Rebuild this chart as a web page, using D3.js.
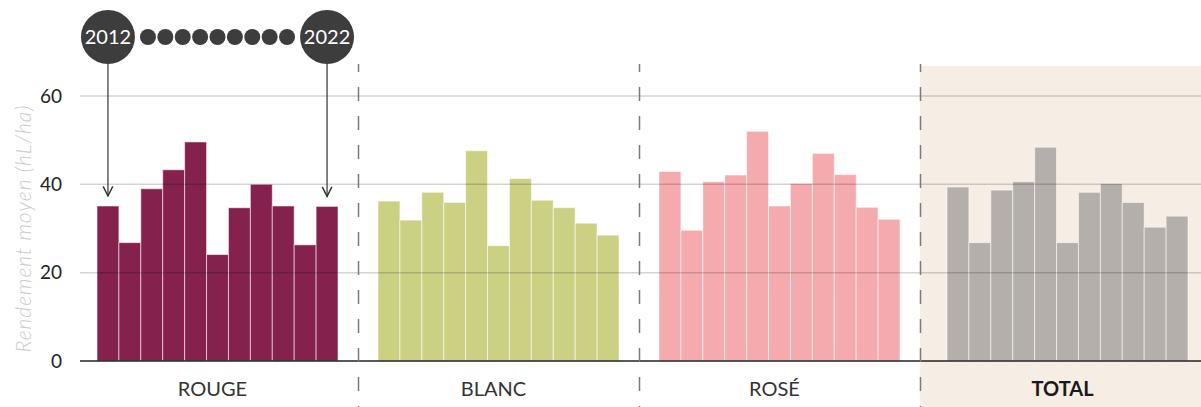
<!DOCTYPE html>
<html>
<head>
<meta charset="utf-8">
<script src="https://cdn.jsdelivr.net/npm/d3@7"></script>
<style>
  body { margin: 0; background: #fff; }
  svg { display: block; font-family: Lato, "Open Sans", sans-serif; }
</style>
</head>
<body>
<div id="chart"></div>
<script>
// data
const categories = ["ROUGE", "BLANC", "ROSÉ", "TOTAL"];
const years = [2012, 2013, 2014, 2015, 2016, 2017, 2018, 2019, 2020, 2021, 2022];
const rouge = [35.1, 26.8, 39.0, 43.3, 49.6, 24.1, 34.7, 40.0, 35.1, 26.3, 35.0];
const blanc = [36.2, 31.9, 38.2, 35.9, 47.6, 26.1, 41.3, 36.4, 34.7, 31.2, 28.5];
const rose  = [42.9, 29.6, 40.6, 42.1, 52.0, 35.1, 40.2, 47.0, 42.2, 34.8, 32.1];
const total = [39.4, 26.8, 38.7, 40.6, 48.4, 26.8, 38.2, 40.2, 35.9, 30.3, 32.8];
const yTicks = [0, 20, 40, 60];
const colors = ["#85214d", "#cbd083", "#f5aaae", "#b4afab"];

const series = [rouge, blanc, rose, total];
const width = 1201, height = 407;

const svg = d3.select("#chart")
  .append("svg")
  .attr("width", width)
  .attr("height", height);

const x0 = d3.scaleBand()
  .domain(categories)
  .range([77, 1201]);

const x1 = d3.scaleBand()
  .domain(years)
  .range([20, x0.bandwidth() - 20]);

const y = d3.scaleLinear()
  .domain([0, 60])
  .range([361, 96]);

// shaded background behind the total panel
svg.append("rect")
  .attr("x", x0("TOTAL"))
  .attr("y", 66)
  .attr("width", x0.bandwidth())
  .attr("height", height - 66)
  .attr("fill", "#f6ede4");

// bars (the total panel sits a few px further right in the original)
const shift = d => d === "TOTAL" ? 7 : 0;
const groups = svg.selectAll(".grp")
  .data(categories)
  .join("g")
    .attr("class", "grp")
    .attr("transform", d => `translate(${x0(d) + shift(d)},0)`);

groups.selectAll("rect")
  .data((d, i) => series[i].map((v, j) => ({ year: years[j], value: v, i: i })))
  .join("rect")
    .attr("x", d => x1(d.year))
    .attr("y", d => y(d.value))
    .attr("width", x1.bandwidth())
    .attr("height", d => y(0) - y(d.value))
    .attr("fill", d => colors[d.i])
    .attr("stroke", "rgba(255,255,255,0.55)")
    .attr("stroke-width", 1);

// gridlines drawn over the bars
svg.append("g")
  .selectAll("line")
  .data(yTicks.filter(t => t > 0))
  .join("line")
    .attr("x1", 80)
    .attr("x2", width)
    .attr("y1", d => y(d))
    .attr("y2", d => y(d))
    .attr("stroke", "rgba(0,0,0,0.17)")
    .attr("stroke-width", 1.5);

// baseline
svg.append("line")
  .attr("x1", 80).attr("x2", width)
  .attr("y1", y(0)).attr("y2", y(0))
  .attr("stroke", "#222")
  .attr("stroke-width", 1.5);

// tick labels
svg.append("g")
  .selectAll("text")
  .data(yTicks)
  .join("text")
    .attr("x", 62)
    .attr("y", d => y(d))
    .attr("dy", "0.35em")
    .attr("text-anchor", "end")
    .style("font-size", "19px")
    .style("fill", "#222")
    .text(d => d);

// axis title
svg.append("text")
  .attr("transform", `translate(31, ${(y(0) + y(60)) / 2}) rotate(-90)`)
  .attr("text-anchor", "middle")
  .style("font-size", "21px")
  .style("font-style", "italic")
  .style("font-weight", 300)
  .style("letter-spacing", "1px")
  .style("fill", "#cccccc")
  .text("Rendement moyen (hL/ha)");

// dashed separators
svg.append("g")
  .selectAll("line")
  .data(categories.slice(1))
  .join("line")
    .attr("x1", d => x0(d) + 0.5)
    .attr("x2", d => x0(d) + 0.5)
    .attr("y1", 64)
    .attr("y2", height)
    .attr("stroke", "#7a7a7a")
    .attr("stroke-width", 1.5)
    .attr("stroke-dasharray", "14 15")
    .attr("stroke-dashoffset", 6);

// category labels
svg.append("g")
  .selectAll("text")
  .data(categories)
  .join("text")
    .attr("x", d => x0(d) + x0.bandwidth() / 2 + shift(d) - 5)
    .attr("y", 396)
    .attr("text-anchor", "middle")
    .style("font-size", "20px")
    .style("font-weight", d => d === "TOTAL" ? 700 : 400)
    .style("fill", d => d === "TOTAL" ? "#1a1a1a" : "#333")
    .text(d => d);

// legend: first and last year with arrows to their bars
const first = years[0], last = years[years.length - 1];
const legY = 37, bigR = 27;
const xFirst = x0("ROUGE") + x1(first) + x1.bandwidth() / 2;
const xLast = x0("ROUGE") + x1(last) + x1.bandwidth() / 2;

svg.append("defs").append("marker")
  .attr("id", "arrow")
  .attr("viewBox", "0 0 10 10")
  .attr("refX", 9).attr("refY", 5)
  .attr("markerWidth", 10).attr("markerHeight", 10)
  .attr("orient", "auto")
  .append("path")
    .attr("d", "M1,1 L9,5 L1,9")
    .attr("fill", "none")
    .attr("stroke", "#333")
    .attr("stroke-width", 1.2);

[[first, xFirst, rouge[0]], [last, xLast, rouge[rouge.length - 1]]].forEach(([yr, cx, v]) => {
  svg.append("line")
    .attr("x1", cx).attr("x2", cx)
    .attr("y1", legY + bigR)
    .attr("y2", y(v) - 10)
    .attr("stroke", "#333")
    .attr("stroke-width", 1.2)
    .attr("marker-end", "url(#arrow)");
  svg.append("circle")
    .attr("cx", cx).attr("cy", legY).attr("r", bigR)
    .attr("fill", "#3d3d3d");
  svg.append("text")
    .attr("x", cx).attr("y", legY)
    .attr("dy", "0.36em")
    .attr("text-anchor", "middle")
    .style("font-size", "20px")
    .style("fill", "#fff")
    .text(yr);
});

// small dots for the years in between
const dotX = d3.scalePoint()
  .domain(years.slice(1, -1))
  .range([xFirst + 40, xLast - 40]);

svg.append("g")
  .selectAll("circle")
  .data(years.slice(1, -1))
  .join("circle")
    .attr("cx", d => dotX(d))
    .attr("cy", legY)
    .attr("r", 8)
    .attr("fill", "#3d3d3d");
</script>
</body>
</html>
